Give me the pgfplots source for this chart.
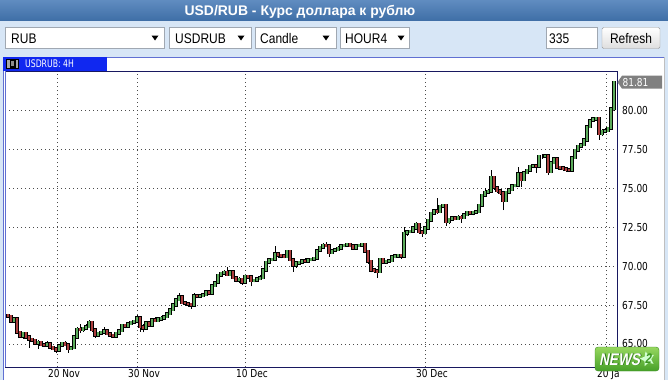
\documentclass[border=0pt]{standalone}
\usepackage{pgfplots}
\pgfplotsset{compat=1.18}
\usepackage{pgfplotstable}
\usepackage{fontspec}
\usetikzlibrary{shapes.geometric}
\setmainfont{Liberation Sans}
\newfontfamily\uif{Liberation Sans}[FakeStretch=0.86]
\newfontfamily\tah{DejaVu Sans}[FakeStretch=0.82]
\newfontfamily\tabf{DejaVu Sans}[FakeStretch=0.74]
\newfontfamily\newsf{Liberation Sans}[FakeSlant=0.2,FakeStretch=0.8]
\definecolor{titletop}{RGB}{96,140,192}
\definecolor{titlebot}{RGB}{62,110,166}
\definecolor{toolbg}{RGB}{215,230,246}
\definecolor{boxborder}{RGB}{160,168,178}
\definecolor{tabblue}{RGB}{16,40,240}
\definecolor{navy}{RGB}{24,24,96}
\definecolor{panelblue}{RGB}{96,112,210}
\definecolor{cgreen}{RGB}{92,172,92}
\definecolor{cred}{RGB}{172,62,62}
\definecolor{taggray}{RGB}{128,128,128}

\pgfplotstableread{
x o h l c
8 66.85 66.95 66.70 66.78
11 66.78 66.85 66.40 66.45
14 66.45 66.70 66.35 66.60
17 66.60 66.65 65.65 65.75
20 65.75 65.85 65.40 65.50
23 65.50 65.80 65.35 65.70
26 65.70 65.75 65.35 65.45
29 65.45 65.55 64.75 65.30
32 65.30 65.40 65.10 65.25
35 65.25 65.30 64.95 65.05
38 65.05 65.25 64.70 65.10
41 65.10 65.15 64.85 64.95
44 64.95 65.05 64.80 64.90
47 64.90 65.20 64.85 65.00
50 65.00 65.05 64.75 64.80
53 64.80 64.85 64.60 64.70
56 64.70 64.75 64.40 64.60
59 64.60 65.00 64.55 64.90
62 64.90 65.15 64.85 65.05
65 65.05 65.20 64.85 64.95
68 64.95 65.00 64.45 64.70
71 64.70 64.85 64.65 64.75
74 64.75 65.55 64.70 65.45
77 65.45 66.10 65.40 65.95
80 65.95 66.25 65.70 65.90
83 65.90 66.10 65.80 66.00
86 66.00 66.25 65.90 66.10
89 66.10 66.55 66.05 66.40
92 66.40 66.45 65.80 65.90
95 65.90 65.95 65.40 65.55
98 65.55 65.80 65.45 65.70
101 65.70 65.85 65.60 65.75
104 65.75 66.10 65.65 65.85
107 65.85 65.90 65.55 65.65
110 65.65 65.75 65.45 65.55
113 65.55 65.65 65.40 65.50
116 65.50 65.80 65.45 65.70
119 65.70 65.95 65.65 65.85
122 65.85 66.30 65.80 66.20
125 66.20 66.30 66.00 66.15
128 66.15 66.40 66.05 66.30
131 66.30 66.50 66.25 66.40
134 66.40 66.55 66.30 66.45
137 66.45 66.85 66.40 66.70
140 66.70 66.80 65.80 66.10
143 66.10 66.25 65.75 66.00
146 66.00 66.45 65.95 66.35
149 66.35 66.40 66.10 66.20
152 66.20 66.65 66.15 66.55
155 66.55 66.70 66.40 66.50
158 66.50 66.75 66.45 66.60
161 66.60 66.80 66.50 66.65
164 66.65 66.85 66.60 66.75
167 66.75 67.05 66.70 66.95
170 66.95 67.30 66.90 67.20
173 67.20 67.60 67.15 67.50
176 67.50 67.90 67.45 67.85
179 67.85 68.30 67.80 68.05
182 68.05 68.10 67.55 67.65
185 67.65 67.75 67.45 67.60
188 67.60 67.70 67.40 67.55
191 67.55 67.65 67.25 67.50
194 67.50 68.25 67.45 68.10
197 68.10 68.15 67.95 68.05
200 68.05 68.20 67.95 68.10
203 68.10 68.25 68.00 68.15
206 68.15 68.45 68.10 68.35
209 68.35 68.40 68.15 68.25
212 68.25 68.85 68.20 68.75
215 68.75 69.05 68.70 68.95
218 68.95 69.50 68.90 69.40
221 69.40 69.65 69.35 69.55
224 69.55 69.75 69.45 69.60
227 69.60 69.95 69.35 69.45
230 69.45 69.75 69.40 69.65
233 69.65 69.70 69.15 69.25
236 69.25 69.30 68.95 69.10
239 69.10 69.30 68.90 69.15
242 69.15 69.20 68.80 68.95
245 68.95 69.45 68.90 69.35
248 69.35 69.45 69.20 69.30
251 69.30 69.35 68.70 69.05
254 69.05 69.20 68.95 69.10
257 69.10 69.30 69.05 69.20
260 69.20 69.40 69.10 69.25
263 69.25 69.85 69.20 69.75
266 69.75 70.35 69.70 70.25
269 70.25 70.50 70.20 70.40
272 70.40 70.55 70.30 70.45
275 70.45 71.30 70.40 70.80
278 70.80 70.90 70.55 70.70
281 70.70 70.80 70.50 70.65
284 70.65 70.75 70.50 70.60
287 70.60 71.05 70.55 70.95
290 70.95 71.00 70.30 70.40
293 70.40 70.45 69.65 70.05
296 70.05 70.30 69.90 70.20
299 70.20 70.35 70.10 70.25
302 70.25 70.45 70.15 70.35
305 70.35 70.50 70.20 70.30
308 70.30 70.50 70.25 70.40
311 70.40 70.55 70.30 70.45
314 70.45 70.60 70.35 70.50
317 70.50 71.10 70.45 71.00
320 71.00 71.30 70.95 71.20
323 71.20 71.50 71.15 71.35
326 71.35 71.55 71.20 71.30
329 71.30 71.40 70.60 70.85
332 70.85 71.10 70.80 71.00
335 71.00 71.15 70.90 71.05
338 71.05 71.30 71.00 71.15
341 71.15 71.40 71.10 71.30
344 71.30 71.45 71.20 71.35
347 71.35 71.50 71.25 71.40
350 71.40 71.45 71.20 71.30
353 71.30 71.35 71.05 71.15
356 71.15 71.40 71.10 71.30
359 71.30 71.45 71.25 71.35
362 71.35 71.50 71.25 71.40
365 71.40 71.45 70.85 70.95
368 70.95 71.00 70.15 70.30
371 70.30 70.35 69.60 69.75
374 69.75 69.85 69.55 69.70
377 69.70 69.80 69.25 69.65
380 69.65 70.55 69.60 70.45
383 70.45 70.50 70.15 70.25
386 70.25 70.40 70.15 70.30
389 70.30 70.45 70.20 70.35
392 70.35 70.70 70.30 70.60
395 70.60 70.75 70.50 70.65
398 70.65 70.80 70.55 70.70
401 70.70 70.75 70.45 70.65
404 70.65 72.50 70.60 72.10
407 72.10 72.35 71.95 72.20
410 72.20 72.35 72.10 72.25
413 72.25 72.55 72.20 72.45
416 72.45 72.85 72.40 72.70
419 72.70 72.75 72.05 72.20
422 72.20 72.30 71.90 72.15
425 72.15 72.55 72.10 72.45
428 72.45 73.05 72.40 72.95
431 72.95 73.50 72.90 73.40
434 73.40 73.65 73.30 73.55
437 73.55 74.35 73.35 73.50
440 73.50 73.95 73.40 73.85
443 73.85 74.00 73.75 73.90
446 73.90 73.95 72.60 72.85
449 72.85 73.10 72.70 73.00
452 73.00 73.20 72.90 73.10
455 73.10 73.15 72.95 73.05
458 73.05 73.25 73.00 73.15
461 73.15 73.25 72.80 73.10
464 73.10 73.40 73.05 73.30
467 73.30 73.55 73.20 73.45
470 73.45 73.55 73.30 73.40
473 73.40 73.55 73.25 73.45
476 73.45 73.60 73.35 73.50
479 73.50 74.00 73.45 73.90
482 73.90 74.65 73.85 74.55
485 74.55 75.00 74.50 74.75
488 74.75 74.95 74.65 74.80
491 74.80 76.15 74.75 75.70
494 75.70 75.75 74.90 75.05
497 75.05 75.10 74.70 74.85
500 74.85 74.90 74.55 74.70
503 74.70 74.75 73.60 74.20
506 74.20 74.85 74.15 74.75
509 74.75 75.00 74.70 74.90
512 74.90 75.25 74.85 75.15
515 75.15 75.30 75.05 75.20
518 75.20 76.35 75.15 75.95
521 75.95 76.05 75.10 75.55
524 75.55 76.10 75.45 76.00
527 76.00 76.25 75.95 76.15
530 76.15 76.50 76.10 76.40
533 76.40 76.55 76.30 76.45
536 76.45 76.55 76.00 76.40
539 76.40 77.15 76.35 77.05
542 77.05 77.20 76.90 77.05
545 77.05 77.20 76.95 77.10
548 77.10 77.15 75.85 76.05
551 76.05 76.75 75.95 76.65
554 76.65 77.00 76.55 76.90
557 76.90 77.00 76.25 76.35
560 76.35 76.45 76.20 76.30
563 76.30 76.40 76.10 76.25
566 76.25 76.30 76.05 76.20
569 76.20 76.30 76.05 76.15
572 76.15 77.05 76.10 76.95
575 76.95 77.55 76.90 77.45
578 77.45 77.80 77.40 77.70
581 77.70 77.90 77.60 77.80
584 77.80 78.20 77.75 78.10
587 78.10 79.05 78.05 78.95
590 78.95 79.45 78.90 79.35
593 79.35 79.55 79.30 79.45
596 79.45 79.60 79.35 79.50
599 79.50 79.55 78.10 78.50
602 78.50 78.80 78.35 78.65
605 78.65 78.85 78.55 78.70
608 78.70 78.95 78.65 78.85
611 78.85 80.15 78.80 80.10
614 80.10 81.90 79.95 81.81
}\candles

\begin{document}
\begin{tikzpicture}[x=1bp,y=1bp]
% background and title bar
\fill[toolbg] (0,0) rectangle (668,359);
\shade[top color=titletop,bottom color=titlebot] (0,359) rectangle (668,380);
\node[font=\bfseries\fontsize{14}{14}\selectfont,text=white,anchor=base,inner sep=0pt] at (300,364.5) {USD/RUB - Курс доллара к рублю};
% toolbar controls
\draw[boxborder,fill=white] (5.5,331.5) rectangle (164.5,352.5);
\draw[boxborder,fill=white] (169.5,331.5) rectangle (251.5,352.5);
\draw[boxborder,fill=white] (255.5,331.5) rectangle (336.5,352.5);
\draw[boxborder,fill=white] (340.5,331.5) rectangle (409.5,352.5);
\draw[boxborder,fill=white] (546.5,331.5) rectangle (597.5,352.5);
\shade[top color=white,bottom color=black!13,draw=black!40,rounded corners=1.5bp] (602,331.5) rectangle (660,352.5);
\begin{scope}[font=\uif\fontsize{14}{14}\selectfont]
\node[anchor=base west,inner sep=0pt] at (11,337) {RUB};
\node[anchor=base west,inner sep=0pt] at (175,337) {USDRUB};
\node[anchor=base west,inner sep=0pt] at (260,337) {Candle};
\node[anchor=base west,inner sep=0pt] at (345,337) {HOUR4};
\node[anchor=base west,inner sep=0pt] at (549,337) {335};
\node[anchor=base,inner sep=0pt] at (631,337) {Refresh};
\end{scope}
\foreach \ax in {155,241,326,401}{\fill (\ax-3.5,344.5) -- (\ax+3.5,344.5) -- (\ax,339.5) -- cycle;}
% panel
\fill[white] (3,0) rectangle (665,323);
\draw[panelblue,line width=0.8bp] (3.4,0) -- (3.4,323) -- (665,323);
\draw[black!25,line width=0.8bp] (664.6,0) -- (664.6,323);
\fill[tabblue] (3,309.5) rectangle (107,323);
\fill[black!35] (6,311) rectangle (19,321.5);
\draw[black,line width=0.6bp] (6.3,311.3) rectangle (18.7,321.2);
\fill[black] (9.5,312.5) rectangle (15.5,320);
\fill[black!45] (11.3,313.8) rectangle (13.7,318.7);
\node[font=\tabf\fontsize{10.5}{10.5}\selectfont,text=white,anchor=base west,inner sep=0pt] at (25,312.3) {USDRUB: 4H};

\begin{axis}[
  at={(5bp,13bp)}, anchor=south west,
  width=612bp, height=296bp, scale only axis,
  xmin=5, xmax=617, ymin=63.52, ymax=82.53,
  axis line style={draw=none},
  clip mode=individual,
  xtick={57,137,245,425,606},
  xticklabels={20 Nov,30 Nov,10 Dec,30 Dec,20 Ja},
  ytick={65,67.5,70,72.5,75,77.5,80},
  yticklabel pos=right,
  major tick length=0pt,
  tick style={draw=none},
  grid=major,
  major grid style={black!70,line width=0.8bp,dash pattern=on 0.8bp off 3.2bp},
  xticklabel style={font=\tah\fontsize{11}{11}\selectfont,anchor=north west,inner sep=0pt,xshift=-9bp,yshift=-2.5bp},
  yticklabel style={font=\tah\fontsize{11}{11}\selectfont,anchor=west,inner sep=0pt,xshift=5bp},
  /pgf/number format/.cd, fixed, fixed zerofill, precision=2, assume math mode=true
]
\addplot[forget plot, draw=none, mark=none,
  error bars/.cd, y dir=plus, y explicit, error mark=none,
  error bar style={draw=black,solid,line width=0.8bp}]
  table[x=x, y=l, y error plus expr={\thisrow{h}-\thisrow{l}}] {\candles};
\addplot[forget plot, draw=none, mark=none,
  error bars/.cd, y dir=plus, y explicit, error mark=none,
  error bar style={draw=black,solid,line width=3.1bp,line cap=rect}]
  table[x=x, y expr={min(\thisrow{o},\thisrow{c})}, y error plus expr={abs(\thisrow{c}-\thisrow{o})}] {\candles};
\addplot[forget plot, draw=none, mark=none,
  restrict expr to domain={\thisrow{c}-\thisrow{o}}{0:100},
  error bars/.cd, y dir=plus, y explicit, error mark=none,
  error bar style={draw=cgreen,solid,line width=1.9bp,line cap=rect}]
  table[x=x, y=o, y error plus expr={\thisrow{c}-\thisrow{o}}] {\candles};
\addplot[forget plot, draw=none, mark=none,
  restrict expr to domain={\thisrow{o}-\thisrow{c}}{0.0001:100},
  error bars/.cd, y dir=plus, y explicit, error mark=none,
  error bar style={draw=cred,solid,line width=1.9bp,line cap=rect}]
  table[x=x, y=c, y error plus expr={\thisrow{o}-\thisrow{c}}] {\candles};
\end{axis}
% plot frame
\draw[navy,line width=1bp] (5,309) -- (617,309) -- (617,13) -- (5,13);
\draw[panelblue,line width=1bp] (5,13) -- (5,309.5);
% last price tag
\fill[taggray] (617.5,297.8) -- (622,304.3) -- (662,304.3) -- (662,291.3) -- (622,291.3) -- cycle;
\node[font=\tah\fontsize{11}{11}\selectfont,text=white,anchor=west,inner sep=0pt] at (622.5,297.8) {81.81};
% NEWS logo
\shade[top color={rgb,255:red,150;green,215;blue,95},bottom color={rgb,255:red,70;green,160;blue,40},rounded corners=3bp,draw={rgb,255:red,60;green,140;blue,35}] (595,9) rectangle (659,33);
\node[star,star points=5,star point ratio=2.1,fill=white!70!green!60,inner sep=2.6bp,rotate=15] at (647.5,21) {};
\node[font=\newsf\bfseries\fontsize{17}{17}\selectfont,text={rgb,255:red,40;green,110;blue,25},anchor=base west,inner sep=0pt] at (599.8,14.4) {NEWS};
\node[font=\newsf\bfseries\fontsize{17}{17}\selectfont,text=white,anchor=base west,inner sep=0pt] at (599,15) {NEWS};
\node[font=\newsf\bfseries\fontsize{14}{14}\selectfont,text={rgb,255:red,60;green,150;blue,35},anchor=center,inner sep=0pt] at (648,21) {2};
\pgfresetboundingbox
\useasboundingbox (0,0) rectangle (668,380);
\end{tikzpicture}
\end{document}
